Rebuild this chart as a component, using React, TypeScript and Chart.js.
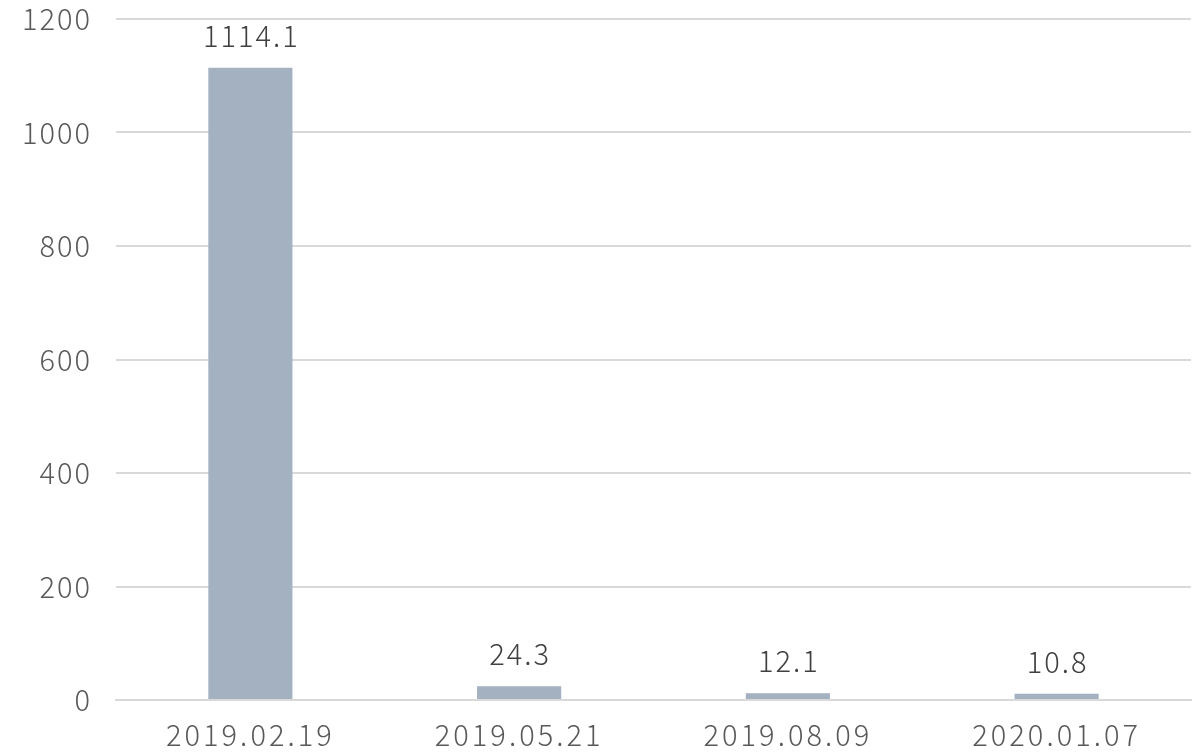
import React, { useEffect, useRef } from "react";
import { Chart, registerables } from "chart.js";

Chart.register(...registerables);

const categories = ["2019.02.19", "2019.05.21", "2019.08.09", "2020.01.07"];
const values = [1114.1, 24.3, 12.1, 10.8];
const yTicks = [0, 200, 400, 600, 800, 1000, 1200];

const FONT = "'Noto Sans CJK KR', 'Noto Sans', sans-serif";

const spacingPlugin = {
  id: "letterSpacing",
  beforeLayout(chart: any) {
    chart.ctx.letterSpacing = "2px";
  },
  beforeDraw(chart: any) {
    chart.ctx.letterSpacing = "2px";
  },
};

const labelPlugin = {
  id: "barLabels",
  afterDatasetsDraw(chart: any) {
    const ctx = chart.ctx;
    const meta = chart.getDatasetMeta(0);
    ctx.save();
    ctx.font = `300 29px ${FONT}`;
    ctx.letterSpacing = "2px";
    ctx.fillStyle = "#404040";
    ctx.textAlign = "center";
    ctx.textBaseline = "alphabetic";
    meta.data.forEach((bar: any, i: number) => {
      ctx.fillText(String(values[i]), bar.x + 1, bar.y - 21);
    });
    ctx.restore();
  },
};

export default function App() {
  const ref = useRef<HTMLCanvasElement>(null);
  useEffect(() => {
    document.body.style.margin = "0";
    const chart = new Chart(ref.current!, {
      type: "bar",
      data: {
        labels: categories,
        datasets: [
          {
            data: values,
            backgroundColor: "#a3b1c0",
            barPercentage: 0.626,
            categoryPercentage: 0.5,
          },
        ],
      },
      options: {
        animation: false,
        responsive: false,
        maintainAspectRatio: false,
        layout: { padding: { top: 19, right: 7, left: 0, bottom: 0 } },
        plugins: { legend: { display: false }, tooltip: { enabled: false } },
        scales: {
          x: {
            grid: { display: false, drawTicks: false },
            border: { display: true, color: "#d9d9d9", width: 2 },
            ticks: {
              color: "#595959",
              font: { family: FONT, size: 29, weight: "300" },
              padding: 18,
              maxRotation: 0,
              autoSkip: false,
            },
            afterFit: (s: any) => {
              s.height = 54;
              s.paddingLeft = 0;
              s.paddingRight = 0;
              if (!s.__patched) {
                const orig = s.drawLabels;
                s.drawLabels = function (area: any) {
                  const c = this.ctx;
                  const prev = c.letterSpacing;
                  c.letterSpacing = "3px";
                  orig.call(this, area);
                  c.letterSpacing = prev;
                };
                s.__patched = true;
              }
            },
          },
          y: {
            min: 0,
            max: 1200,
            afterBuildTicks: (s: any) => {
              s.ticks = yTicks.map((v) => ({ value: v }));
            },
            grid: { color: "#d9d9d9", lineWidth: 2, drawTicks: false },
            border: { display: false },
            ticks: {
              color: "#595959",
              font: { family: FONT, size: 29, weight: "300" },
              padding: 24,
              callback: (v: any) => String(v),
            },
            afterFit: (s: any) => {
              s.width = 116;
              s.paddingTop = 0;
              s.paddingBottom = 0;
            },
          },
        },
      },
      plugins: [spacingPlugin, labelPlugin],
    });
    return () => chart.destroy();
  }, []);
  return (
    <div style={{ position: "absolute", left: 0, top: 0, width: 1198, height: 754 }}>
      <canvas ref={ref} width={1198} height={754} />
    </div>
  );
}
